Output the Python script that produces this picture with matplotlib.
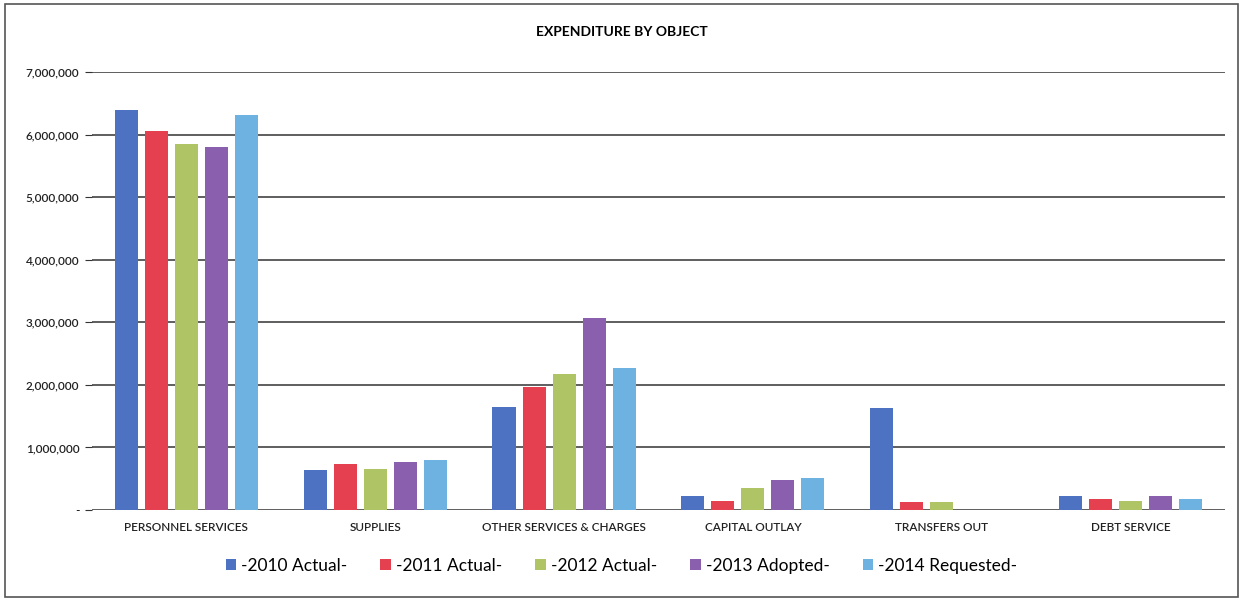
import matplotlib.pyplot as plt
import numpy as np

categories = ['PERSONNEL SERVICES', 'SUPPLIES', 'OTHER SERVICES & CHARGES',
              'CAPITAL OUTLAY', 'TRANSFERS OUT', 'DEBT SERVICE']
series = ['-2010 Actual-', '-2011 Actual-', '-2012 Actual-', '-2013 Adopted-', '-2014 Requested-']
values = [
    [6390000, 640000, 1650000, 220000, 1630000, 220000],
    [6050000, 730000, 1960000, 140000, 130000, 170000],
    [5850000, 660000, 2170000, 350000, 130000, 140000],
    [5800000, 770000, 3070000, 480000, 0, 220000],
    [6310000, 800000, 2270000, 510000, 0, 170000],
]
colors = ['#4d72c2', '#e5404f', '#aec465', '#8a5fae', '#6eb2e2']
yticks = [0, 1000000, 2000000, 3000000, 4000000, 5000000, 6000000, 7000000]

plt.rcParams['font.family'] = ['Lato', 'DejaVu Sans']

fig = plt.figure(figsize=(12.43, 5.99), dpi=100)
fig.patches.append(plt.Rectangle((0.004, 0.004), 0.992, 0.99, transform=fig.transFigure,
                                 fill=False, edgecolor='#555555', linewidth=1.2))
ax = fig.add_axes([0.074, 0.1486, 0.9115, 0.7312])

x = np.arange(len(categories))
pitch = 0.159
width = 0.122
for i, (name, vals) in enumerate(zip(series, values)):
    ax.bar(x + (i - 2) * pitch, vals, width, color=colors[i], label=name, zorder=3)

ax.set_xlim(-0.5, len(categories) - 0.5)
ax.set_ylim(0, 7000000)
ax.set_yticks(yticks)
ax.set_yticklabels(['-'] + [f'{v:,}' for v in yticks[1:]], fontsize=8.5,
                   fontweight='semibold', color='#222222')
ax.set_xticks(x)
ax.set_xticklabels(categories, fontsize=8.5, fontweight='semibold', color='#222222')
ax.grid(axis='y', color='#333333', linewidth=1.1, zorder=0)
for s in ax.spines.values():
    s.set_visible(False)
ax.tick_params(axis='y', length=5, color='#333333', pad=4)
ax.tick_params(axis='x', length=0, pad=9)

fig.text(0.5, 0.947, 'EXPENDITURE BY OBJECT', ha='center', va='center',
         fontsize=10, fontweight='bold')
fig.legend(loc='center', bbox_to_anchor=(0.5, 0.055), ncol=5, frameon=False,
           fontsize=12.5, handlelength=0.6, handleheight=0.6, handletextpad=0.3,
           columnspacing=1.9)

fig.savefig('out.png', dpi=100)
